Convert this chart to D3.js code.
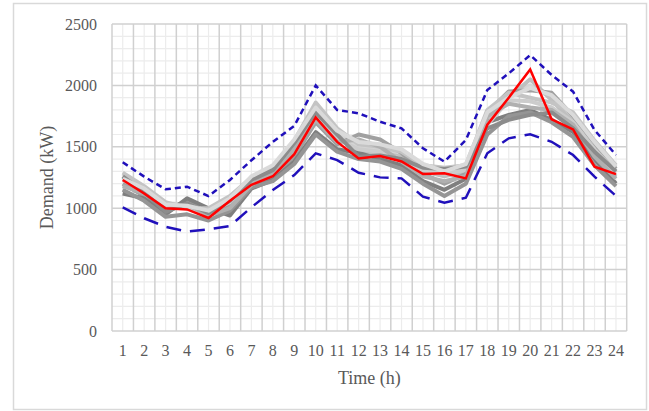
<!DOCTYPE html>
<html>
<head>
<meta charset="utf-8">
<script src="https://cdn.jsdelivr.net/npm/d3@7"></script>
<style>
  body { margin: 0; background: #fff; }
  svg text { font-family: 'Liberation Serif', 'Times New Roman', serif; }
</style>
</head>
<body>
<div id="chart"></div>
<script>
// hours on the x axis
const hours = d3.range(1, 25);
const yTicks = [0, 500, 1000, 1500, 2000, 2500];

// mean demand (red)
const meanDemand = [1230, 1120, 1000, 990, 920, 1060, 1190, 1260, 1440, 1740, 1540, 1405, 1425, 1380, 1278, 1284, 1243, 1680, 1900, 2130, 1724, 1642, 1338, 1278];
// upper bound (short dashes)
const upperBound = [1374, 1257, 1154, 1175, 1099, 1230, 1390, 1540, 1670, 2000, 1800, 1773, 1704, 1650, 1488, 1379, 1555, 1962, 2098, 2247, 2085, 1949, 1637, 1433];
// lower bound (long dashes)
const lowerBound = [1007, 918, 849, 809, 828, 855, 1007, 1148, 1270, 1447, 1392, 1289, 1251, 1243, 1094, 1045, 1085, 1447, 1569, 1602, 1541, 1433, 1257, 1100];

// individual days (grey traces)
const day1 = [1280, 1170, 1040, 1030, 990, 1080, 1240, 1320, 1500, 1840, 1620, 1500, 1480, 1440, 1330, 1300, 1330, 1760, 1930, 2000, 1900, 1740, 1500, 1300];
const day2 = [1250, 1140, 1010, 1010, 960, 1060, 1220, 1300, 1470, 1800, 1580, 1460, 1450, 1420, 1300, 1260, 1300, 1720, 1900, 2050, 1880, 1700, 1450, 1260];
const day3 = [1200, 1100, 980, 1060, 950, 1020, 1180, 1260, 1420, 1700, 1520, 1600, 1560, 1450, 1280, 1200, 1280, 1780, 1950, 1960, 1940, 1750, 1520, 1320];
const day4 = [1120, 1080, 950, 1080, 1000, 940, 1160, 1230, 1380, 1620, 1480, 1450, 1400, 1350, 1220, 1150, 1240, 1700, 1760, 1800, 1720, 1620, 1400, 1200];
const day5 = [1290, 1180, 1050, 1000, 1000, 1100, 1250, 1340, 1550, 1860, 1650, 1520, 1500, 1460, 1350, 1330, 1350, 1800, 1940, 1900, 1860, 1780, 1550, 1350];
const day6 = [1150, 1060, 930, 950, 900, 980, 1170, 1220, 1360, 1600, 1460, 1400, 1380, 1320, 1200, 1100, 1200, 1600, 1750, 1780, 1700, 1580, 1350, 1180];
const day7 = [1230, 1150, 1020, 1000, 970, 1050, 1200, 1280, 1450, 1760, 1560, 1480, 1460, 1400, 1310, 1280, 1310, 1680, 1880, 1870, 1820, 1700, 1480, 1290];
const day8 = [1180, 1120, 990, 1030, 940, 1000, 1190, 1290, 1480, 1720, 1540, 1560, 1500, 1380, 1260, 1220, 1260, 1750, 1850, 1820, 1800, 1680, 1420, 1240];
const day9 = [1260, 1130, 970, 1040, 960, 1060, 1230, 1310, 1530, 1780, 1600, 1420, 1430, 1400, 1330, 1320, 1340, 1650, 1720, 1760, 1780, 1650, 1460, 1300];
const day10 = [1240, 1160, 1030, 1020, 980, 1080, 1260, 1350, 1560, 1820, 1630, 1540, 1520, 1480, 1360, 1300, 1360, 1780, 1900, 1980, 1920, 1760, 1540, 1340];

const days = [day1, day2, day3, day4, day5, day6, day7, day8, day9, day10];
const greys = ['#d4d4d4', '#bfbfbf', '#a0a0a0', '#7f7f7f', '#c4c4c4', '#959595', '#cccccc', '#b0b0b0', '#8c8c8c', '#dadada'];

const width = 649, height = 411;
const margin = { top: 24, right: 22.3, bottom: 80, left: 112 };
const serif = "'Liberation Serif', 'Times New Roman', serif";

const svg = d3.select('#chart').append('svg')
  .attr('width', width)
  .attr('height', height)
  .attr('viewBox', [0, 0, width, height]);

// outer frame
svg.append('rect')
  .attr('x', 13.5).attr('y', 3.5)
  .attr('width', 633).attr('height', 406)
  .attr('fill', 'none')
  .attr('stroke', '#d9d9d9')
  .attr('stroke-width', 1.5);

const x = d3.scaleBand()
  .domain(hours)
  .range([margin.left, width - margin.right]);
const y = d3.scaleLinear()
  .domain([0, 2500])
  .range([height - margin.bottom, margin.top]);
const cx = d => x(d) + x.bandwidth() / 2;

// minor grid
const grid = svg.append('g');
grid.selectAll('.hminor')
  .data(d3.range(0, 2501, 100).filter(v => v % 500 !== 0))
  .join('line')
  .attr('x1', margin.left).attr('x2', width - margin.right)
  .attr('y1', d => y(d)).attr('y2', d => y(d))
  .attr('stroke', '#ececec').attr('stroke-width', 1.2);
grid.selectAll('.vminor')
  .data(hours)
  .join('line')
  .attr('x1', d => cx(d)).attr('x2', d => cx(d))
  .attr('y1', y(0)).attr('y2', y(2500))
  .attr('stroke', '#ececec').attr('stroke-width', 1.2);

// major grid
grid.selectAll('.hmajor')
  .data(yTicks)
  .join('line')
  .attr('x1', margin.left).attr('x2', width - margin.right)
  .attr('y1', d => y(d)).attr('y2', d => y(d))
  .attr('stroke', '#d0d0d0').attr('stroke-width', 1.5);
grid.selectAll('.vmajor')
  .data(hours.concat([25]))
  .join('line')
  .attr('x1', d => d === 25 ? width - margin.right : x(d))
  .attr('x2', d => d === 25 ? width - margin.right : x(d))
  .attr('y1', y(0)).attr('y2', y(2500))
  .attr('stroke', '#d0d0d0').attr('stroke-width', 1.5);

const line = d3.line()
  .x((d, i) => cx(hours[i]))
  .y(d => y(d));

// grey traces
svg.append('g')
  .selectAll('path')
  .data(days)
  .join('path')
  .attr('d', line)
  .attr('fill', 'none')
  .attr('stroke', (d, i) => greys[i])
  .attr('stroke-width', 4)
  .attr('stroke-linejoin', 'round');

// bounds
svg.append('path')
  .attr('d', line(upperBound))
  .attr('fill', 'none')
  .attr('stroke', '#2010bb')
  .attr('stroke-width', 2.5)
  .attr('stroke-dasharray', '6,4');
svg.append('path')
  .attr('d', line(lowerBound))
  .attr('fill', 'none')
  .attr('stroke', '#2010bb')
  .attr('stroke-width', 2.5)
  .attr('stroke-dasharray', '15,9');

// mean
svg.append('path')
  .attr('d', line(meanDemand))
  .attr('fill', 'none')
  .attr('stroke', '#ff0000')
  .attr('stroke-width', 2.5);

// axes
svg.append('g')
  .attr('transform', `translate(${margin.left},0)`)
  .call(d3.axisLeft(y).tickValues(yTicks).tickFormat(d3.format('d')).tickSize(0).tickPadding(15))
  .call(g => g.select('.domain').remove())
  .call(g => g.attr('font-family', null).attr('font-size', null))
  .call(g => g.selectAll('text')
    .style('font-family', serif)
    .style('font-size', '16px')
    .attr('fill', '#595959'));

svg.append('g')
  .attr('transform', `translate(0,${y(0)})`)
  .call(d3.axisBottom(x).tickSize(0).tickPadding(14))
  .call(g => g.select('.domain').remove())
  .call(g => g.attr('font-family', null).attr('font-size', null))
  .call(g => g.selectAll('text')
    .style('font-family', serif)
    .style('font-size', '16px')
    .attr('fill', '#595959'));

// axis titles
svg.append('text')
  .attr('x', (margin.left + width - margin.right) / 2)
  .attr('y', 384)
  .attr('text-anchor', 'middle')
  .style('font-family', serif)
  .style('font-size', '18px')
  .attr('fill', '#595959')
  .text('Time (h)');

svg.append('text')
  .attr('transform', `translate(53,${(y(0) + y(2500)) / 2}) rotate(-90)`)
  .attr('text-anchor', 'middle')
  .style('font-family', serif)
  .style('font-size', '18px')
  .attr('fill', '#595959')
  .text('Demand (kW)');
</script>
</body>
</html>
